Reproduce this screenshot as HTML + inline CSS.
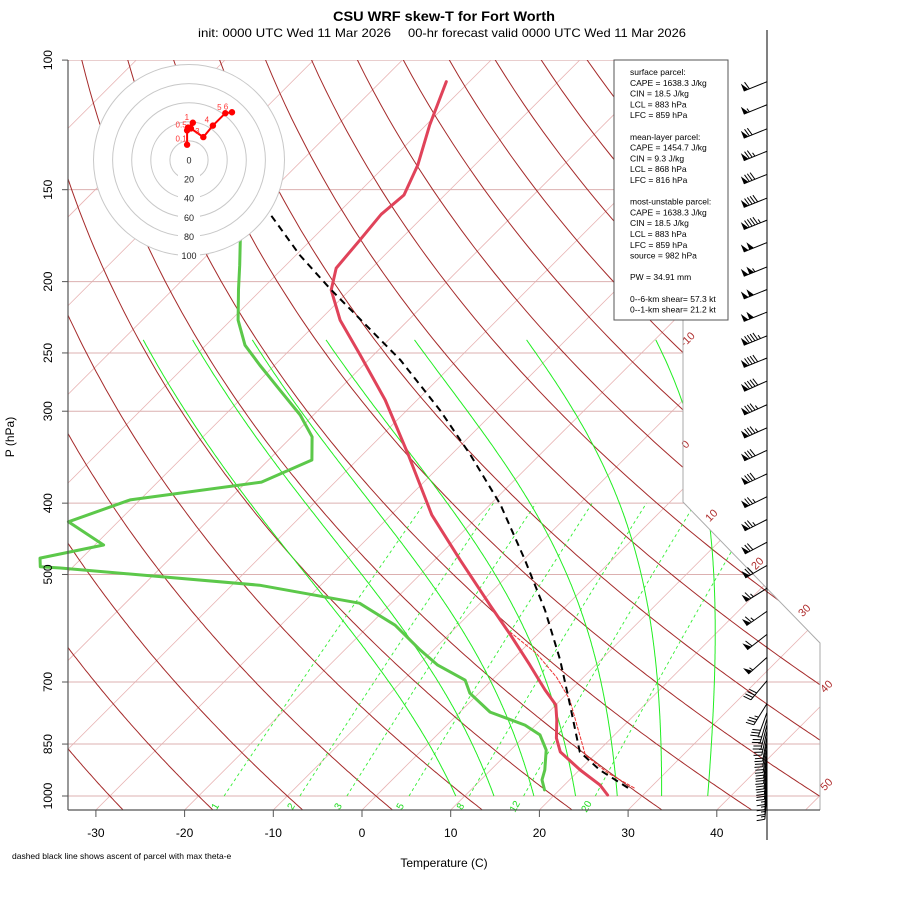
<!DOCTYPE html>
<html><head><meta charset="utf-8"><title>CSU WRF skew-T for Fort Worth</title>
<style>
html,body{margin:0;padding:0;background:#fff;}
svg{display:block;font-family:"Liberation Sans",sans-serif;}
</style></head>
<body>
<svg id="chart" width="900" height="900" viewBox="0 0 900 900" xmlns="http://www.w3.org/2000/svg">
<defs>
<clipPath id="plotclip"><polygon points="68,60 683,60 683,502 820,643 820,810 68,810"/></clipPath>
</defs>
<rect width="900" height="900" fill="#fff"/>
<text x="444" y="21" text-anchor="middle" font-size="14" font-weight="bold" textLength="222" lengthAdjust="spacingAndGlyphs">CSU WRF skew-T for Fort Worth</text>
<text x="198" y="37" font-size="12" textLength="193" lengthAdjust="spacingAndGlyphs">init: 0000 UTC Wed 11 Mar 2026</text>
<text x="408" y="37" font-size="12" textLength="278" lengthAdjust="spacingAndGlyphs">00-hr forecast valid 0000 UTC Wed 11 Mar 2026</text>
<g id="bg" clip-path="url(#plotclip)"></g>
<g id="fg"></g>
<g id="axes"></g>
<g id="hodo"></g>
<g id="barbs"></g>
<g>
<rect x="614" y="60" width="114" height="260" fill="#fff" stroke="#555" stroke-width="1"/>
<text font-size="8.5" fill="#000">
<tspan x="630" y="75">surface parcel:</tspan>
<tspan x="630" y="85.8">CAPE = 1638.3 J/kg</tspan>
<tspan x="630" y="96.6">CIN = 18.5 J/kg</tspan>
<tspan x="630" y="107.4">LCL = 883 hPa</tspan>
<tspan x="630" y="118.2">LFC = 859 hPa</tspan>
<tspan x="630" y="139.8">mean-layer parcel:</tspan>
<tspan x="630" y="150.6">CAPE = 1454.7 J/kg</tspan>
<tspan x="630" y="161.4">CIN = 9.3 J/kg</tspan>
<tspan x="630" y="172.2">LCL = 868 hPa</tspan>
<tspan x="630" y="183">LFC = 816 hPa</tspan>
<tspan x="630" y="204.6">most-unstable parcel:</tspan>
<tspan x="630" y="215.4">CAPE = 1638.3 J/kg</tspan>
<tspan x="630" y="226.2">CIN = 18.5 J/kg</tspan>
<tspan x="630" y="237">LCL = 883 hPa</tspan>
<tspan x="630" y="247.8">LFC = 859 hPa</tspan>
<tspan x="630" y="258.6">source = 982 hPa</tspan>
<tspan x="630" y="280.2">PW =  34.91 mm</tspan>
<tspan x="630" y="301.8">0--6-km shear= 57.3 kt</tspan>
<tspan x="630" y="312.6">0--1-km shear= 21.2 kt</tspan>
</text>
</g>
<text x="444" y="867" text-anchor="middle" font-size="12">Temperature (C)</text>
<text x="14" y="437" text-anchor="middle" font-size="12" transform="rotate(-90 14 437)">P (hPa)</text>
<text x="12" y="859" font-size="8.5">dashed black line shows ascent of parcel with max theta-e</text>
<script>
// ---- data ----
const pressureTicks=[100,150,200,250,300,400,500,700,850,1000];
const tempTicks=[-30,-20,-10,0,10,20,30,40];
const thetaLines=[-30,-20,-10,0,10,20,30,40,50,60,70,80,90,100,110,120,130,140,150,160,170];
const thetaLabels=["-10","0","10","20","30","40","50"];
const moistStart=[9,13.3,17.8,22.5,27.2,32.2,37.4];
const mixRatios=[1,2,3,5,8,12,20];
const tempP=[107,122.5,139,152.5,162,175.5,191.7,205.3,225.6,251.6,289.7,344,415,478,550,604,664,717.6,752,788,834,871,922,966,997];
const tempT=[-72.6,-69.6,-66.4,-64.6,-65.0,-64.5,-64.0,-62.1,-57.7,-51.5,-43.6,-34.8,-25.4,-17.1,-8.7,-3.0,2.6,7.1,10.0,11.8,13.8,15.8,20.1,24.0,26.0];
const dewP=[175.5,190,205,225.6,244,259.6,280.8,303.6,325,349.5,374.5,396,424,456,475,488,490,517,547,586,633,664,696,725,769,801,826,866,922,951,981];
const dewT=[-78.0,-75.2,-72.6,-69.2,-65.6,-61.7,-56.6,-51.5,-47.7,-45.1,-48.3,-61.1,-65.6,-59.0,-64.7,-63.7,-61.3,-36.9,-23.6,-17.1,-11.5,-7.8,-3.0,-1.0,3.4,8.8,11.6,14.0,16.1,16.9,18.3];
const parcelP=[975,922,871,752,653,559,478,402,344,299,255.6,205,184,162,157];
const parcelT=[27.5,22.3,18.0,11.6,5.4,-1.9,-9.8,-18.8,-27.8,-36.3,-46.4,-62.2,-69.6,-77.5,-79.5];
const vparcelP=[975,930,880,800,740,690,640,600];
const vparcelT=[28.2,23.5,19.0,14.6,11.0,7.0,2.0,-3.2];
const hodoU=[-2,-2,-1,4,2,15,25,38,45];
const hodoV=[16,31,34,39,33,24,36,49,50];
const hodoLabels=["0.1","0.5","","1","","3","4","5","6"];
const hodoRings=[20,40,60,80,100];
const barbP=[107,115,124,133,143,154,165,177,191,205,220,237,254,273,294,316,339,365,392,421,452,486,522,561,603,648,697,749,770,785,800,815,830,845,860,875,890,905,920,935,950,965,980,995];
const barbSpd=[60,55,70,75,80,90,95,100,105,100,100,95,90,90,85,85,80,80,75,75,70,70,65,65,60,55,40,35,30,25,25,25,20,20,20,20,20,20,20,20,15,15,15,15];
const barbDir=[248,248,248,248,248,248,248,248,248,248,248,248,248,246,246,246,245,245,244,243,242,240,238,235,232,228,220,212,200,196,194,192,190,190,189,188,188,187,186,186,185,185,185,185];

// ---- axes functions ----
const NS="http://www.w3.org/2000/svg";
function yP(p){return 796-319.6*Math.log(1000/p);}
function xT(T,p){return 362+8.87*T+(810-yP(p));}
function mk(tag,attrs,parent){const e=document.createElementNS(NS,tag);for(const k in attrs)e.setAttribute(k,attrs[k]);parent.appendChild(e);return e;}
function pathOf(pts){return pts.map((q,i)=>(i?"L":"M")+q[0].toFixed(1)+","+q[1].toFixed(1)).join("");}
const bg=document.getElementById('bg'),fg=document.getElementById('fg'),axes=document.getElementById('axes'),hodo=document.getElementById('hodo'),barbs=document.getElementById('barbs');

// isotherms
for(let T=-160;T<=50;T+=10){
  const l=mk('line',{x1:xT(T,1050),y1:yP(1050),x2:xT(T,90),y2:yP(90),stroke:'#e8b4b4','stroke-width':0.8},bg);
  
  
}
// isobars
pressureTicks.forEach(p=>{
  const l=mk('line',{x1:68,y1:yP(p),x2:820,y2:yP(p),stroke:'#dcb0b0','stroke-width':1},bg);
  
  
});
// dry adiabats
thetaLines.forEach(th=>{
  const pts=[];for(let p=1060;p>=95;p-=5){const T=(th+273.15)*Math.pow(p/1000,0.2857)-273.15;pts.push([xT(T,p),yP(p)]);}
  const e=mk('path',{d:pathOf(pts),fill:'none',stroke:'#a52a2a','stroke-width':1},bg);
  
  
});
// moist adiabats
function es(T){return 6.112*Math.exp(17.67*T/(T+243.5));}
function rs(T,p){const e=es(T);return 0.622*e/(p-e);}
const LF=0.6;
moistStart.forEach(T0=>{
  let T=T0,pts=[];
  for(let p=1000;p>=240;p-=2){
    pts.push([xT(T,p),yP(p)]);
    const Tk=T+273.15,r=rs(T,p)*LF;
    const dTdp=(287*Tk+2.5e6*r)/(p*(1004+2.5e6*2.5e6*r*0.622/(287*Tk*Tk)));
    T-=dTdp*2;
  }
  const e=mk('path',{d:pathOf(pts),fill:'none',stroke:'#22ee22','stroke-width':1},bg);
  
  
});
// mixing ratio lines
function tFromW(w,p){const e=w/1000*p/(0.622+w/1000);const a=Math.log(e/6.112);return 243.5*a/(17.67-a);}
mixRatios.forEach(w=>{
  const pts=[];for(let p=1000;p>=400;p-=10)pts.push([xT(tFromW(w,p),p),yP(p)]);
  const e=mk('path',{d:pathOf(pts),fill:'none',stroke:'#33ee33','stroke-width':0.9,'stroke-dasharray':'3,3'},bg);
  
  
  const x=xT(tFromW(w,1000),1000)-6;
  const t=mk('text',{x:x,y:808,'font-size':10,fill:'#22dd22','text-anchor':'middle',transform:`rotate(-60 ${x} 808)`},axes);
  t.textContent=w;
  
  
});
// theta labels (layout positions)
const thetaLabelPos=[[690,342],[688,447],[714,518],[760,566],[807,613],[829,689],[829,787]];
thetaLabels.forEach((s,i)=>{
  const [x,y]=thetaLabelPos[i];
  const t=mk('text',{x:x,y:y,'font-size':11,fill:'#b03030','text-anchor':'middle',transform:`rotate(-45 ${x} ${y})`},axes);
  t.textContent=s;
  
  
});
// boundary
mk('polyline',{points:'683,60 683,502 820,643 820,810',fill:'none',stroke:'#aaa','stroke-width':1},axes);
mk('line',{x1:68,y1:60,x2:68,y2:810,stroke:'#555','stroke-width':1.2},axes);
mk('line',{x1:68,y1:810,x2:820,y2:810,stroke:'#555','stroke-width':1.2},axes);
pressureTicks.forEach(p=>{
  const y=yP(p);
  mk('line',{x1:62,y1:y,x2:68,y2:y,stroke:'#555'},axes);
  const t=mk('text',{x:52,y:y,'font-size':12,'text-anchor':'middle',transform:`rotate(-90 52 ${y})`},axes);
  t.textContent=p;
  
  
});
tempTicks.forEach(T=>{
  const x=362+8.87*T;
  mk('line',{x1:x,y1:810,x2:x,y2:817,stroke:'#555'},axes);
  const t=mk('text',{x:x,y:837,'font-size':12,'text-anchor':'middle'},axes);
  t.textContent=T;
  
  
});
// profiles
function prof(P,T,attrs,name){
  const e=mk('path',Object.assign({d:pathOf(P.map((p,i)=>[xT(T[i],p),yP(p)])),fill:'none','stroke-linejoin':'round','stroke-linecap':'round'},attrs),fg);
  
  
}
prof(dewP,dewT,{stroke:'#5cc84a','stroke-width':3},'dewpoint-line');
prof(vparcelP,vparcelT,{stroke:'#ee3333','stroke-width':1,'stroke-dasharray':'3,2'},'virtual-parcel-line');
prof(tempP,tempT,{stroke:'#e0435a','stroke-width':3},'temperature-line');
prof(parcelP,parcelT,{stroke:'#000','stroke-width':2,'stroke-dasharray':'7,5','stroke-linecap':'butt'},'parcel-line');
// hodograph
const hc=[189,160],hs=0.955;
mk('circle',{cx:hc[0],cy:hc[1],r:100*hs,fill:'#fff',stroke:'none'},hodo);
hodoRings.forEach(r=>{const c=mk('circle',{cx:hc[0],cy:hc[1],r:r*hs,fill:'none',stroke:'#c8c8c8'},hodo);
  
  });
[0].concat(hodoRings).forEach(r=>{
  const y=hc[1]+r*hs;
  mk('rect',{x:hc[0]-11,y:y-5,width:22,height:10,fill:'#fff'},hodo);
  const t=mk('text',{x:hc[0],y:y+3.5,'font-size':9,'text-anchor':'middle',fill:'#222'},hodo);
  t.textContent=r;
  
  
});
const hpts=hodoU.map((u,i)=>[hc[0]+u*hs,hc[1]-hodoV[i]*hs]);
const hl=mk('path',{d:pathOf(hpts),fill:'none',stroke:'#f00','stroke-width':2},hodo);


hpts.forEach((q,i)=>{
  const c=mk('circle',{cx:q[0],cy:q[1],r:3.2,fill:'#f00'},hodo);
  
  
  if(hodoLabels[i]){const t=mk('text',{x:q[0]-6,y:q[1]-3,'font-size':8,fill:'#f33','text-anchor':'middle'},hodo);t.textContent=hodoLabels[i];}
});
// wind barbs
mk('line',{x1:767,y1:30,x2:767,y2:840,stroke:'#000','stroke-width':1},barbs);
barbP.forEach((p,i)=>{
  const y=yP(p),d=barbDir[i]*Math.PI/180,spd=barbSpd[i];
  const vx=Math.sin(d),vy=-Math.cos(d); // screen vector toward source direction
  const L=25,ex=767+vx*L,ey=y+vy*L;
  const px=-vy,py=vx;
  const g=mk('g',{},barbs);
  
  
  mk('line',{x1:767,y1:y,x2:ex,y2:ey,stroke:'#000','stroke-width':1},g);
  let rem=Math.round(spd/5)*5,pos=L;
  while(rem>=50){
    const ax=767+vx*pos,ay=y+vy*pos,bx=767+vx*(pos-5),by=y+vy*(pos-5);
    mk('polygon',{points:`${ax},${ay} ${ax+px*8},${ay+py*8} ${bx},${by}`,fill:'#000'},g);
    pos-=6;rem-=50;
  }
  while(rem>=10){
    const ax=767+vx*pos,ay=y+vy*pos;
    mk('line',{x1:ax,y1:ay,x2:ax+px*8+vx*2,y2:ay+py*8+vy*2,stroke:'#000','stroke-width':1},g);
    pos-=3;rem-=10;
  }
  if(rem>=5){
    const ax=767+vx*pos,ay=y+vy*pos;
    mk('line',{x1:ax,y1:ay,x2:ax+px*4+vx*1,y2:ay+py*4+vy*1,stroke:'#000','stroke-width':1},g);
  }
});
</script>
</svg>
</body></html>
